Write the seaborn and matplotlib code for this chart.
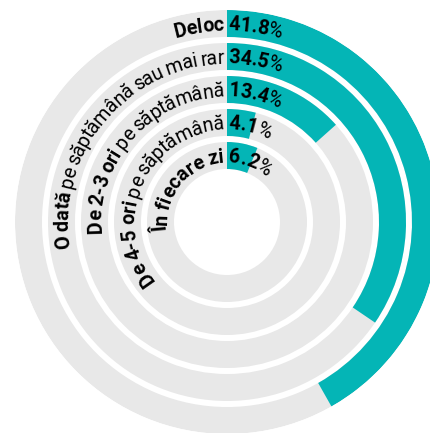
import numpy as np
import matplotlib
matplotlib.use("Agg")
import matplotlib.pyplot as plt
from matplotlib.font_manager import FontProperties
import seaborn as sns

# date sondaj
labels_bold = ["Deloc", "O dată", "De 2-3 ori", "De 4-5 ori", "În fiecare zi"]
labels_rest = ["", " pe săptămână sau mai rar", " pe săptămână", " pe săptămână", ""]
values = [41.8, 34.5, 13.4, 4.1, 6.2]

teal = "#04b5b6"
gray = "#e8e8e8"

sns.set_theme(style="white")
plt.rcParams["font.family"] = ["Roboto", "DejaVu Sans"]

fig = plt.figure(figsize=(4.30, 4.33), dpi=100)
ax = fig.add_axes([15 / 430, -1 / 433, 424 / 430, 424 / 433], projection="polar")
ax.set_theta_zero_location("N")
ax.set_theta_direction(-1)
ax.set_ylim(0, 212)
ax.set_axis_off()

band = 27
step = 33
centers = [212 - band / 2 - i * step for i in range(len(values))]

for rc, v in zip(centers, values):
    ax.barh(rc, 2 * np.pi, height=band, left=0, color=gray, linewidth=0)
    ax.barh(rc, np.deg2rad(v * 3.6), height=band, left=0, color=teal, linewidth=0)

fig.canvas.draw()
renderer = fig.canvas.get_renderer()
cy = ax.transData.transform((0, 0))[1]
px_per_unit = (ax.transData.transform((0, 100))[1] - cy) / 100

fam = ["Roboto", "DejaVu Sans"]
bold = FontProperties(family=fam, weight="bold", size=14.2)
regular = FontProperties(family=fam, weight="normal", size=14.2)
tracking = {"bold": -0.2, "normal": -0.55}  # px, literele sunt stranse in original


def advances(text, prop):
    out = []
    for i in range(len(text)):
        a = renderer.get_text_width_height_descent(text[:i + 1] + "|", prop, ismath=False)[0]
        b = renderer.get_text_width_height_descent(text[:i] + "|", prop, ismath=False)[0]
        w = a - b + tracking[prop.get_weight()]
        if text[i] == " ":
            w -= 0.8
        out.append(w)
    return out


def arc_text(pieces, r, pad_px, align):
    # text curbat pe inel, in sensul acelor de ceas
    chars = []
    for text, prop in pieces:
        for ch, w in zip(text, advances(text, prop)):
            chars.append((ch, w, prop))
    r_px = r * px_per_unit
    total = sum(c[1] for c in chars) / r_px
    if align == "right":
        t = -pad_px / r_px - total
    else:
        t = pad_px / r_px
    for ch, w, prop in chars:
        tc = t + w / 2 / r_px
        ax.text(tc, r, ch, fontproperties=prop, rotation=-np.degrees(tc),
                rotation_mode="anchor", ha="center", va="baseline", color="black")
        t += w / r_px


for rc, b, rest, v in zip(centers, labels_bold, labels_rest, values):
    base = rc - 7
    arc_text([(b, bold), (rest, regular)], base, 3, "right")
    arc_text([(f"{v:.1f}", bold), ("%", regular)], base, 1.5, "left")

fig.savefig("out.png", dpi=100)
